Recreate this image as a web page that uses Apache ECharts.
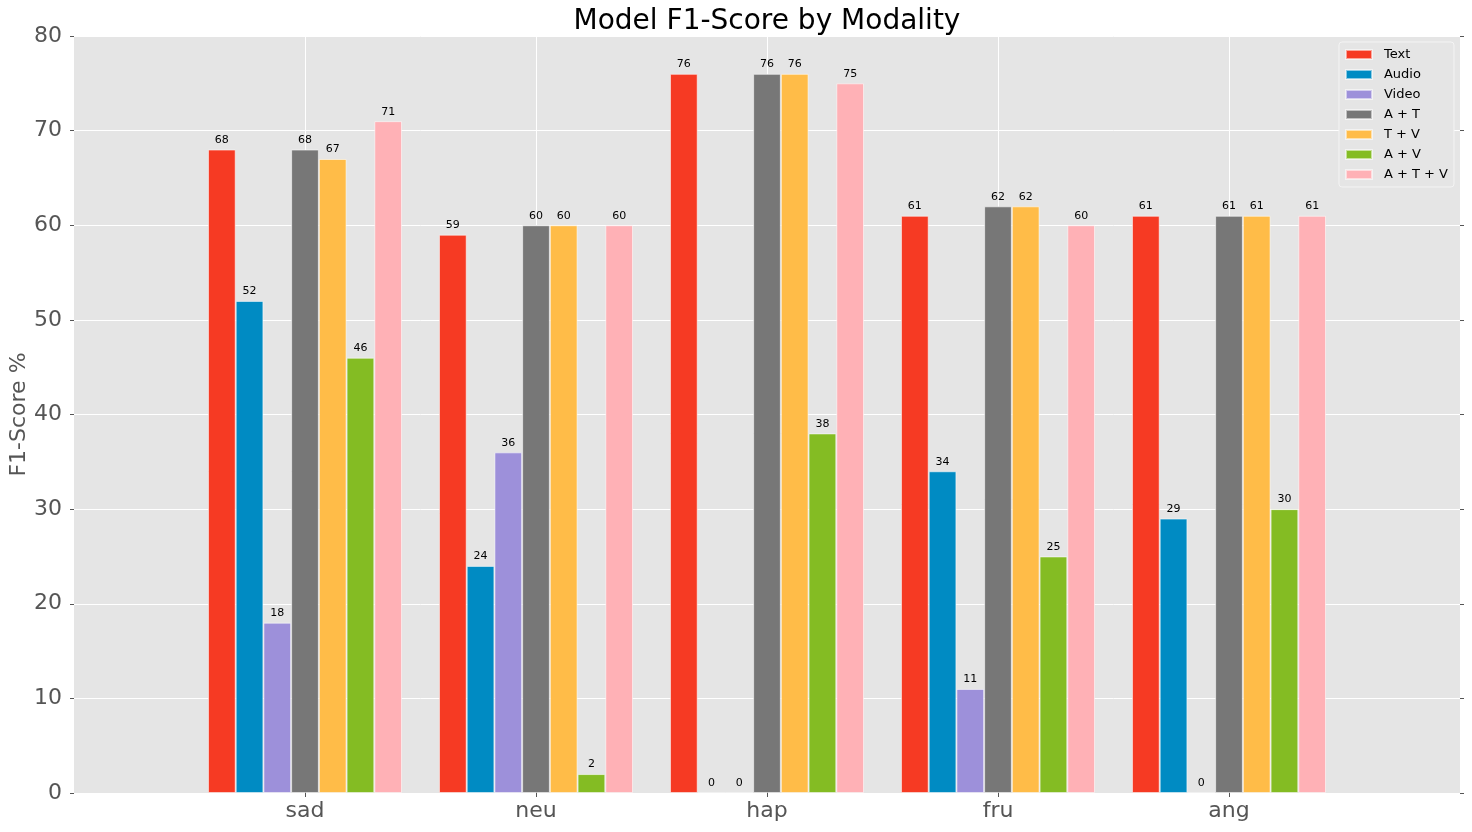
<!DOCTYPE html>
<html>
<head>
<meta charset="utf-8">
<script src="https://cdn.jsdelivr.net/npm/echarts@6/dist/echarts.min.js"></script>
<style>html,body{margin:0;padding:0;background:#fff;}#c{width:1472px;height:832px;}</style>
</head>
<body>
<div id="c"></div>
<script>
const categories = ['sad', 'neu', 'hap', 'fru', 'ang'];
const seriesNames = ['Text', 'Audio', 'Video', 'A + T', 'T + V', 'A + V', 'A + T + V'];
const textVals  = [68, 59, 76, 61, 61];
const audioVals = [52, 24, 0, 34, 29];
const videoVals = [18, 36, 0, 11, 0];
const atVals    = [68, 60, 76, 62, 61];
const tvVals    = [67, 60, 76, 62, 61];
const avVals    = [46, 2, 38, 25, 30];
const atvVals   = [71, 60, 75, 60, 61];
const yTicks = [0, 10, 20, 30, 40, 50, 60, 70, 80];

const colors = ['#F63A23', '#008BC3', '#9D90DA', '#777777', '#FFBC48', '#84BC23', '#FFB1B6'];
const allVals = [textVals, audioVals, videoVals, atVals, tvVals, avVals, atvVals];
const axisCats = [''].concat(categories, ['']);
const font = 'DejaVu Sans';

const series = seriesNames.map((name, i) => ({
  name: name,
  type: 'bar',
  data: [null].concat(allVals[i], [null]),
  barWidth: '12%',
  barGap: '0%',
  itemStyle: { color: colors[i], borderColor: 'rgba(255,255,255,0.55)', borderWidth: 1 },
  label: { show: true, position: 'top', distance: 4, color: '#000', fontSize: 11, fontFamily: font },
  emphasis: { disabled: true }
}));

const chart = echarts.init(document.getElementById('c'), null, { renderer: 'canvas' });
chart.setOption({
  animation: false,
  backgroundColor: '#fff',
  title: {
    text: 'Model F1-Score by Modality', left: 762, top: 3, textAlign: 'center',
    textStyle: { fontSize: 28, fontWeight: 'normal', color: '#000', fontFamily: font }
  },
  grid: { left: 74, right: 12, top: 36, bottom: 39, show: true, backgroundColor: '#E5E5E5', borderWidth: 0,
    containLabel: false, outerBoundsMode: 'none' },
  legend: {
    orient: 'vertical', right: 18, top: 42,
    backgroundColor: '#E5E5E5', borderColor: '#f4f4f4', borderWidth: 1, borderRadius: 3,
    padding: [6, 6, 6, 6],
    itemWidth: 26, itemHeight: 9, itemGap: 7, icon: 'rect',
    textStyle: { fontSize: 13, color: '#000', fontFamily: font, padding: [0, 0, 0, 7] },
    data: seriesNames
  },
  xAxis: [{
    type: 'category', data: axisCats, boundaryGap: false,
    axisLine: { show: false },
    axisTick: { show: true, inside: false, length: 4, lineStyle: { color: '#555' }, interval: (i, v) => v !== '' },
    axisLabel: { color: '#555', fontSize: 22, fontFamily: font, margin: 7, interval: 0 },
    splitLine: { show: true, lineStyle: { color: '#fff', width: 1 }, interval: (i, v) => v !== '' }
  }, {
    type: 'category', data: axisCats, boundaryGap: false, position: 'top',
    axisLine: { show: false },
    axisTick: { show: true, inside: false, length: 4, lineStyle: { color: '#555' }, interval: (i, v) => v !== '' },
    axisLabel: { show: false }, splitLine: { show: false }
  }],
  yAxis: [{
    type: 'value', min: 0, max: 80, interval: 10,
    name: 'F1-Score %', nameLocation: 'middle', nameGap: 44, nameMoveOverlap: false,
    nameTextStyle: { color: '#555', fontSize: 22, fontFamily: font },
    axisLine: { show: false },
    axisTick: { show: true, inside: false, length: 4, lineStyle: { color: '#555' } },
    axisLabel: { color: '#555', fontSize: 22, fontFamily: font, margin: 12,
      formatter: v => yTicks.includes(v) ? String(v) : '' },
    splitLine: { show: true, lineStyle: { color: '#fff', width: 1 } }
  }, {
    type: 'value', min: 0, max: 80, interval: 10, position: 'right',
    axisLine: { show: false },
    axisTick: { show: true, inside: false, length: 4, lineStyle: { color: '#555' } },
    axisLabel: { show: false }, splitLine: { show: false }
  }],
  series: series
});
</script>
</body>
</html>
